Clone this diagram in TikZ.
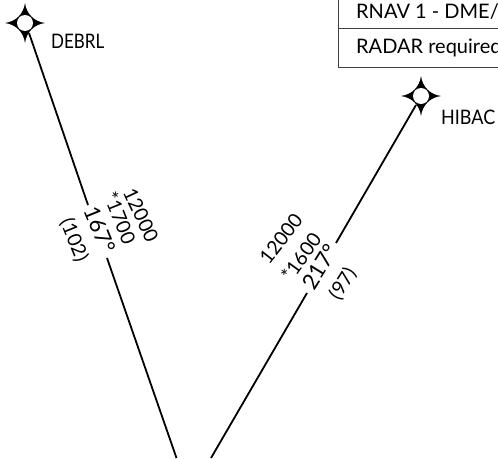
\documentclass[tikz,border=0pt]{standalone}
\usepackage{fontspec}
\setmainfont{Lato}
\usetikzlibrary{calc}
\tikzset{
  route/.style={draw=black,line width=1.8pt},
  boxline/.style={draw=black!75,line width=1pt},
  lbl/.style={inner sep=0pt,font=\fontsize{20}{20}\selectfont,text=black},
  fixlbl/.style={lbl,anchor=west,transform shape},
  along/.style={inner sep=0pt,font=\fontsize{19.5}{19.5}\selectfont,text=black,anchor=center},
  alongbig/.style={along,font=\fontsize{22}{22}\selectfont}
}
\newcommand{\fixstar}[1]{%
  \fill[black] ($(#1)+(0,-20)$) .. controls ($(#1)+(1.5,-9)$) and ($(#1)+(9,-1.5)$) .. ($(#1)+(20,0)$)
   .. controls ($(#1)+(9,1.5)$) and ($(#1)+(1.5,9)$) .. ($(#1)+(0,20)$)
   .. controls ($(#1)+(-1.5,9)$) and ($(#1)+(-9,1.5)$) .. ($(#1)+(-20,0)$)
   .. controls ($(#1)+(-9,-1.5)$) and ($(#1)+(-1.5,-9)$) .. ($(#1)+(0,-20)$) -- cycle;
  \fill[white] (#1) circle (8);}
\begin{document}
\begin{tikzpicture}[x=1pt,y=-1pt]
\useasboundingbox (0,0) rectangle (498,458);
\coordinate (deb) at (25,23);
\coordinate (hib) at (421,96);
\coordinate (debe) at (29,33);
\coordinate (hibe) at (416,105);
\coordinate (a1) at (88,205);
\coordinate (a2) at (107,258);
\coordinate (a3) at (176.5,458);
\coordinate (b1) at (336,243);
\coordinate (b2) at (307,293);
\coordinate (b3) at (211,458);
\fixstar{deb}
\fixstar{hib}
\draw[route] (debe) -- (a1);
\draw[route] (a2) -- (a3);
\draw[route] (hibe) -- (b1);
\draw[route] (b2) -- (b3);
\node[fixlbl,xscale=.85] (debl) at (51,41) {DEBRL};
\node[fixlbl,xscale=.9] (hibl) at (441,117) {HIBAC};
\draw[boxline] (338,-2) rectangle (500,67);
\draw[boxline] (338,28) -- (500,28);
\node[lbl,anchor=west] (t1) at (356,12) {RNAV 1 - DME/};
\node[lbl,anchor=west] (t2) at (356,48) {RADAR required};
\node[along,rotate=-65] (n1) at (141,215) {12000};
\node[along,rotate=-68] (n2) at (120,218) {*1700};
\node[alongbig,rotate=-68] (n3) at (100,230) {167°};
\node[along,rotate=-68] (n4) at (74,240) {(102)};
\node[along,rotate=52] (m1) at (281,239) {12000};
\node[along,rotate=54] (m2) at (301,257) {*1600};
\node[alongbig,rotate=58] (m3) at (320,267) {217°};
\node[along,rotate=58] (m4) at (343,284) {(97)};
\end{tikzpicture}
\end{document}
